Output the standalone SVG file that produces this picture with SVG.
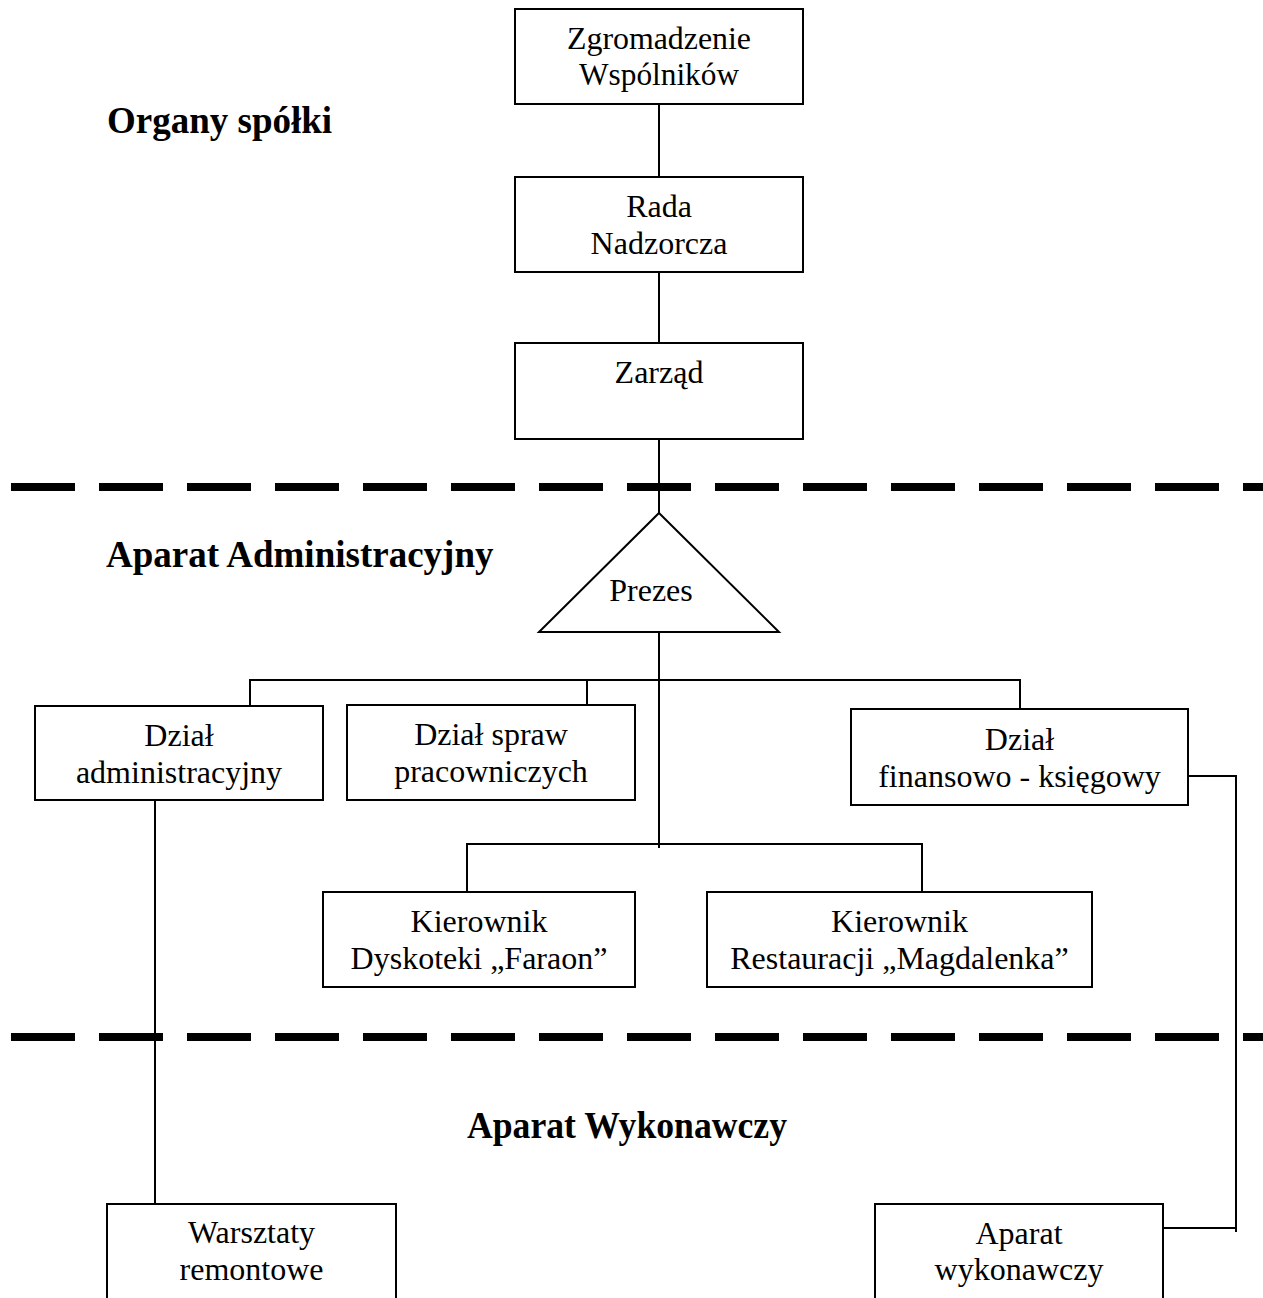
<svg xmlns="http://www.w3.org/2000/svg" width="1263" height="1298" viewBox="0 0 1263 1298">
<style>
.box{fill:#fff;stroke:#000;stroke-width:2}
.ln{fill:none;stroke:#000;stroke-width:2}
.dash{fill:none;stroke:#000;stroke-width:8;stroke-dasharray:64 24}
.t{font-family:"Liberation Serif","Times New Roman",serif;font-size:32px;fill:#000;text-anchor:middle}
.h{font-family:"Liberation Serif","Times New Roman",serif;font-size:37px;font-weight:bold;fill:#000}
</style>
<rect width="1263" height="1298" fill="#fff"/>
<g id="separators">
<line class="dash" x1="11" y1="487" x2="1263" y2="487"/>
<line class="dash" x1="11" y1="1037" x2="1263" y2="1037"/>
</g>
<g id="headings">
<text class="h" x="107" y="133">Organy spółki</text>
<text class="h" x="106" y="567">Aparat Administracyjny</text>
<text class="h" x="467" y="1138" textLength="320" lengthAdjust="spacingAndGlyphs">Aparat Wykonawczy</text>
</g>
<g id="connectors">
<line class="ln" x1="659" y1="104" x2="659" y2="177"/>
<line class="ln" x1="659" y1="272" x2="659" y2="343"/>
<line class="ln" x1="659" y1="439" x2="659" y2="513"/>
<line class="ln" x1="659" y1="632" x2="659" y2="848"/>
<path class="ln" d="M250 706 V680 H1020 V709"/>
<line class="ln" x1="587" y1="680" x2="587" y2="705"/>
<path class="ln" d="M467 892 V844 H922 V892"/>
<line class="ln" x1="155" y1="800" x2="155" y2="1204"/>
<path class="ln" d="M1188 776 H1236 V1232"/>
<line class="ln" x1="1163" y1="1228" x2="1236" y2="1228"/>
</g>
<g id="zgromadzenie">
<rect class="box" x="515" y="9" width="288" height="95"/>
<text class="t" x="659" y="49" textLength="184" lengthAdjust="spacingAndGlyphs">Zgromadzenie</text>
<text class="t" x="659" y="85" textLength="160" lengthAdjust="spacingAndGlyphs">Wspólników</text>
</g>
<g id="rada">
<rect class="box" x="515" y="177" width="288" height="95"/>
<text class="t" x="659" y="217">Rada</text>
<text class="t" x="659" y="254">Nadzorcza</text>
</g>
<g id="zarzad">
<rect class="box" x="515" y="343" width="288" height="96"/>
<text class="t" x="659" y="383">Zarząd</text>
</g>
<g id="prezes">
<polygon class="box" points="659,513 779,632 539,632"/>
<text class="t" x="651" y="601">Prezes</text>
</g>
<g id="dzial-administracyjny">
<rect class="box" x="35" y="706" width="288" height="94"/>
<text class="t" x="179" y="746">Dział</text>
<text class="t" x="179" y="783">administracyjny</text>
</g>
<g id="dzial-spraw">
<rect class="box" x="347" y="705" width="288" height="95"/>
<text class="t" x="491" y="745">Dział spraw</text>
<text class="t" x="491" y="782">pracowniczych</text>
</g>
<g id="dzial-finansowy">
<rect class="box" x="851" y="709" width="337" height="96"/>
<text class="t" x="1019.5" y="750">Dział</text>
<text class="t" x="1019.5" y="787">finansowo - księgowy</text>
</g>
<g id="kierownik-dyskoteki">
<rect class="box" x="323" y="892" width="312" height="95"/>
<text class="t" x="479" y="932">Kierownik</text>
<text class="t" x="479" y="969">Dyskoteki „Faraon”</text>
</g>
<g id="kierownik-restauracji">
<rect class="box" x="707" y="892" width="385" height="95"/>
<text class="t" x="899.5" y="932">Kierownik</text>
<text class="t" x="899.5" y="969">Restauracji „Magdalenka”</text>
</g>
<g id="warsztaty">
<rect class="box" x="107" y="1204" width="289" height="110"/>
<text class="t" x="251.5" y="1243">Warsztaty</text>
<text class="t" x="251.5" y="1280">remontowe</text>
</g>
<g id="aparat-wykonawczy">
<rect class="box" x="875" y="1204" width="288" height="110"/>
<text class="t" x="1019" y="1244">Aparat</text>
<text class="t" x="1019" y="1280">wykonawczy</text>
</g>
</svg>
